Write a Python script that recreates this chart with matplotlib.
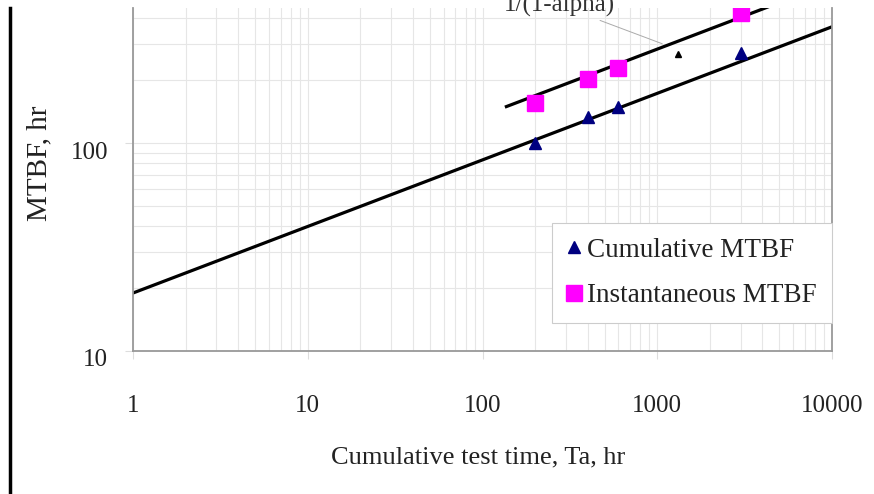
import numpy as np
import matplotlib
matplotlib.use("Agg")
import matplotlib.pyplot as plt
from matplotlib.lines import Line2D
from matplotlib.transforms import ScaledTranslation

plt.rcParams['font.family'] = ['Liberation Serif', 'DejaVu Serif']

# data
test_time = [200, 400, 600, 3000]
cum_mtbf = [100, 133, 149, 271]
inst_mtbf = [156, 203, 229, 421]
extra_time = [1320]
extra_mtbf = [268]

# fitted growth lines: MTBF = a * T^slope
cum_a, cum_slope = 19.0, 0.32
inst_a, inst_slope = 31.0, 0.32
cum_range = [1, 10000]
inst_range = [137, 10000]

x_ticks = [1, 10, 100, 1000, 10000]
y_ticks = [10, 100]

fig = plt.figure(figsize=(8.74, 4.94), dpi=100)
ax = fig.add_axes([133/874, 1 - 351/494, 699/874, 343/494])
ax.set_xscale('log')
ax.set_yscale('log')
ax.set_xlim(1, 10000)
ax.set_ylim(10, 10**(2 + 135/208))

ax.grid(True, which='both', color='#e6e6e6', lw=0.8)
ax.set_axisbelow(True)

t1 = np.logspace(np.log10(cum_range[0]), np.log10(cum_range[1]), 50)
ax.plot(t1, cum_a * t1**cum_slope, color='black', lw=2.3)
t2 = np.logspace(np.log10(inst_range[0]), np.log10(inst_range[1]), 50)
ax.plot(t2, inst_a * t2**inst_slope, color='black', lw=2.3)

ax.plot(test_time, inst_mtbf, ls='none', marker='s', ms=12, color='#ff00ff',
        label='Instantaneous MTBF', zorder=3)
ax.plot(test_time, cum_mtbf, ls='none', marker='^', ms=9, color='#000080',
        label='Cumulative MTBF', zorder=4)
ax.plot(extra_time, extra_mtbf, ls='none', marker='^', ms=4.5, color='black')

ax.annotate('1/(1-alpha)', xy=(1068, 300), xytext=(275, 430),
            ha='center', va='baseline', fontsize=18, color='#333333',
            arrowprops=dict(arrowstyle='-', color='#aaaaaa', lw=0.7,
                            shrinkA=2, shrinkB=0))

for s in ['left', 'bottom', 'right']:
    ax.spines[s].set_color('#999999')
    ax.spines[s].set_linewidth(1.3)
ax.spines['top'].set_visible(False)

ax.set_xticks(x_ticks)
ax.set_xticklabels([str(v) for v in x_ticks])
ax.set_yticks(y_ticks)
ax.set_yticklabels([str(v) for v in y_ticks])
ax.tick_params(which='minor', length=0)
ax.tick_params(which='major', length=6, color='#dddddd', labelsize=18,
               labelcolor='#222222')
ax.tick_params(axis='x', pad=26)
ax.tick_params(axis='y', pad=12)
off = ScaledTranslation(0, -7/100, fig.dpi_scale_trans)
for lab in ax.get_yticklabels():
    lab.set_transform(lab.get_transform() + off)

handles, labels = ax.get_legend_handles_labels()
leg = ax.legend(handles[::-1], labels[::-1], loc='upper right',
                bbox_to_anchor=(1.0, (351 - 223) / 343), borderaxespad=0,
                fontsize=19.5, frameon=True, fancybox=False, framealpha=1,
                edgecolor='#cccccc', handlelength=0.5, handletextpad=0.25,
                labelspacing=0.75, borderpad=0.55, labelcolor='#222222')
leg.get_frame().set_linewidth(0.8)

fig.text(478/874, 1 - 457/494, 'Cumulative test time, Ta, hr', ha='center',
         va='center', fontsize=19, color='#222222')
fig.text(39/874, 1 - 163/494, 'MTBF, hr', ha='center', va='center',
         rotation=90, fontsize=21, color='#222222')

fig.add_artist(Line2D([10/874, 10/874], [0, 1 - 8/494], transform=fig.transFigure,
                      color='black', lw=2.5))

fig.savefig('out.png', dpi=100)
